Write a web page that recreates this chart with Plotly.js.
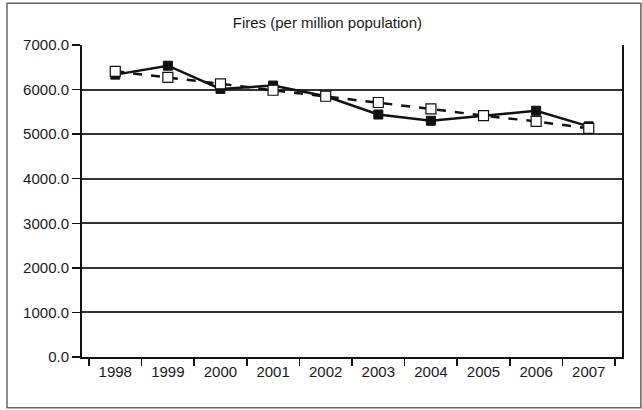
<!DOCTYPE html>
<html>
<head>
<meta charset="utf-8">
<script src="https://cdn.plot.ly/plotly-3.0.1.min.js"></script>
<style>
html,body{margin:0;padding:0;background:#fff;}
#chart{width:642px;height:410px;}
</style>
</head>
<body>
<div id="chart"></div>
<script>
var years = ["1998","1999","2000","2001","2002","2003","2004","2005","2006","2007"];
var firesActual = [6335, 6535, 6015, 6090, 5850, 5440, 5300, 5415, 5525, 5175];
var firesTrend = [6410, 6275, 6130, 5985, 5850, 5710, 5565, 5415, 5285, 5130];
var yTicks = [0, 1000, 2000, 3000, 4000, 5000, 6000, 7000];

var fontFam = "Liberation Sans, Arial, sans-serif";

var traces = [
  {
    x: years, y: firesActual, name: "Fires", type: "scatter", mode: "lines+markers",
    line: {color: "#111", width: 2.5},
    marker: {symbol: "square", size: 9, color: "#111", line: {color: "#111", width: 1}}
  },
  {
    x: years, y: firesTrend, name: "Trend", type: "scatter", mode: "lines+markers",
    line: {color: "#111", width: 2.5, dash: "dash"},
    marker: {symbol: "square", size: 10, color: "#fff", line: {color: "#111", width: 1.2}}
  }
];

var layout = {
  width: 642, height: 410,
  margin: {l: 82, r: 20, t: 45, b: 53},
  paper_bgcolor: "#fff", plot_bgcolor: "#fff",
  showlegend: false,
  title: {text: "Fires (per million population)", x: 0.51, xanchor: "center", y: 0.945, yanchor: "middle",
          font: {family: fontFam, size: 15, color: "#1a1a1a"}},
  xaxis: {
    type: "category", tickson: "boundaries", ticks: "outside", ticklen: 7, tickwidth: 1.5, tickcolor: "#111",
    showline: true, linecolor: "#111", linewidth: 2, mirror: false, showgrid: false, zeroline: false,
    tickfont: {family: fontFam, size: 15, color: "#1a1a1a"}, fixedrange: true
  },
  yaxis: {
    range: [0, 7000], tickvals: yTicks, tickformat: ".1f", ticks: "outside", ticklen: 8, tickwidth: 1.5, tickcolor: "#111",
    showline: true, linecolor: "#111", linewidth: 2, mirror: true,
    showgrid: true, gridcolor: "#333", gridwidth: 2, zeroline: false,
    tickfont: {family: fontFam, size: 15, color: "#1a1a1a"}, fixedrange: true
  },
  shapes: [
    {type: "rect", xref: "paper", yref: "paper", x0: -0.1389, x1: 1.035, y0: -0.163, y1: 1.134,
     line: {color: "#666", width: 1.5}, fillcolor: "rgba(0,0,0,0)"}
  ]
};

Plotly.newPlot("chart", traces, layout, {displayModeBar: false, staticPlot: true});
</script>
</body>
</html>
